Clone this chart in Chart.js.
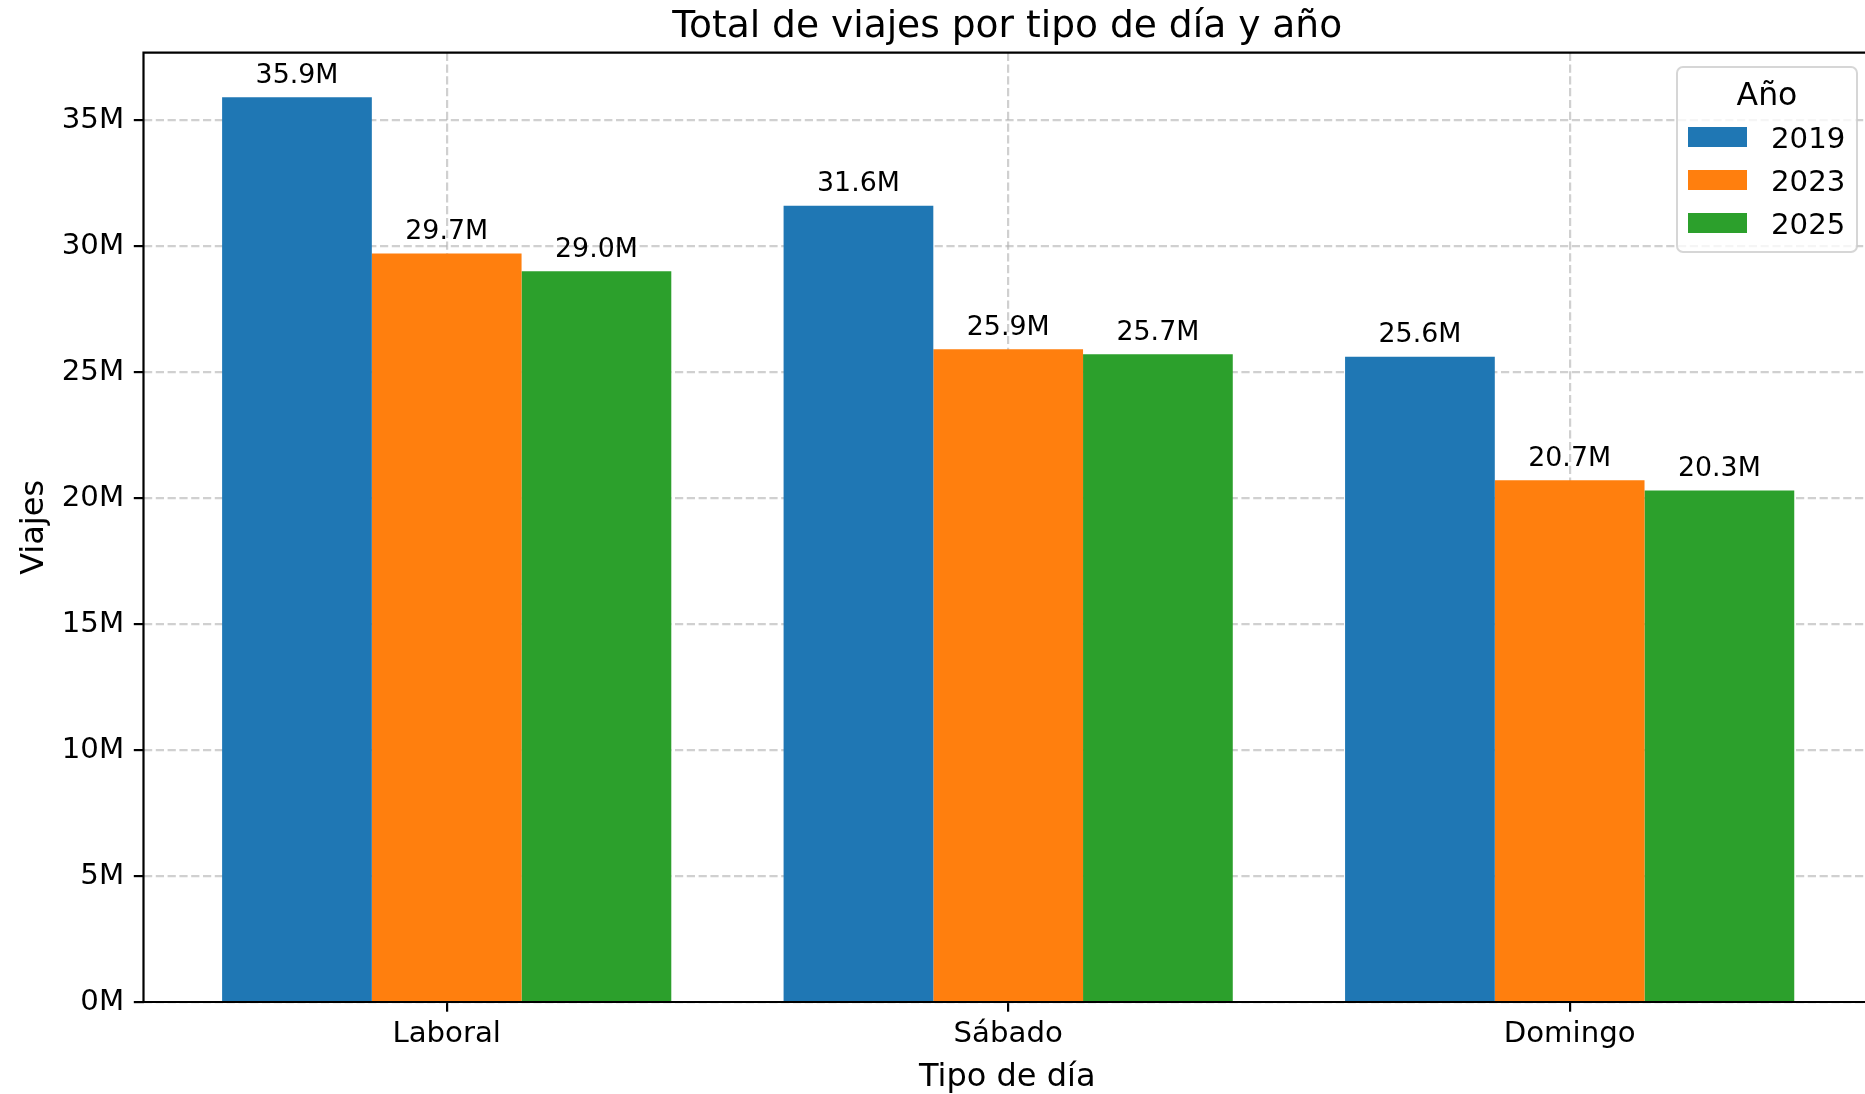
<!DOCTYPE html>
<html>
<head>
<meta charset="utf-8">
<title>Total de viajes por tipo de día y año</title>
<script src="https://cdn.jsdelivr.net/npm/chart.js"></script>
<style>
  body { margin: 0; background: #fff; overflow: hidden; }
</style>
</head>
<body>
<canvas id="grafico" width="1865" height="1094"></canvas>
<script>
// datos (millones de viajes)
var tipos_dia = ['Laboral', 'Sábado', 'Domingo'];
var anios = ['2019', '2023', '2025'];
var viajes_2019 = [35.9, 31.6, 25.6];
var viajes_2023 = [29.7, 25.9, 20.7];
var viajes_2025 = [29.0, 25.7, 20.3];
var ticks_y = [0, 5, 10, 15, 20, 25, 30, 35];
var colores = ['#1f77b4', '#ff7f0e', '#2ca02c'];

var fuente = 'DejaVu Sans';
var color_grid = 'rgba(176,176,176,0.6)';

// paso los valores a puntos {x, y} para el eje lineal
function puntos(valores) {
  return valores.map(function (v, i) { return { x: i, y: v }; });
}

function etiqueta(v) {
  return v.toFixed(1) + 'M';
}

// titulo, spines, etiquetas de las barras y leyenda
var extras = {
  id: 'extras',
  afterDraw: function (chart) {
    var ctx = chart.ctx;
    var area = chart.chartArea;
    ctx.save();

    // spines
    ctx.strokeStyle = '#000';
    ctx.lineWidth = 2.2;
    ctx.beginPath();
    ctx.moveTo(area.right + 5, area.top);
    ctx.lineTo(area.left, area.top);
    ctx.lineTo(area.left, area.bottom);
    ctx.lineTo(area.right + 5, area.bottom);
    ctx.stroke();

    ctx.fillStyle = '#000';
    var centro_x = (area.left + 1871) / 2;

    // titulo
    ctx.font = '37.6px "' + fuente + '"';
    ctx.textAlign = 'center';
    ctx.textBaseline = 'alphabetic';
    ctx.fillText('Total de viajes por tipo de día y año', centro_x, 36.5);

    // titulos de los ejes
    ctx.font = '32px "' + fuente + '"';
    ctx.fillText('Tipo de día', centro_x, 1085.5);
    ctx.save();
    ctx.translate(42.7, (area.top + area.bottom) / 2);
    ctx.rotate(-Math.PI / 2);
    ctx.fillText('Viajes', 0, 0);
    ctx.restore();

    // etiquetas encima de cada barra
    ctx.font = '26.8px "' + fuente + '"';
    chart.data.datasets.forEach(function (ds, d) {
      var meta = chart.getDatasetMeta(d);
      meta.data.forEach(function (barra, i) {
        ctx.fillText(etiqueta(ds.data[i].y), barra.x, barra.y - 14.5);
      });
    });

    // leyenda
    var lx = 1677, ly = 67, lw = 180, lh = 185, r = 6;
    ctx.beginPath();
    ctx.moveTo(lx + r, ly);
    ctx.arcTo(lx + lw, ly, lx + lw, ly + lh, r);
    ctx.arcTo(lx + lw, ly + lh, lx, ly + lh, r);
    ctx.arcTo(lx, ly + lh, lx, ly, r);
    ctx.arcTo(lx, ly, lx + lw, ly, r);
    ctx.closePath();
    ctx.fillStyle = 'rgba(255,255,255,0.8)';
    ctx.fill();
    ctx.strokeStyle = 'rgba(204,204,204,0.8)';
    ctx.lineWidth = 2;
    ctx.stroke();

    ctx.fillStyle = '#000';
    ctx.font = '31.5px "' + fuente + '"';
    ctx.textAlign = 'center';
    ctx.fillText('Año', lx + lw / 2, 105);

    ctx.font = '29.2px "' + fuente + '"';
    ctx.textAlign = 'left';
    chart.data.datasets.forEach(function (ds, d) {
      var y = 127 + d * 43;
      ctx.fillStyle = ds.backgroundColor;
      ctx.fillRect(1688, y, 59, 20);
      ctx.fillStyle = '#000';
      ctx.fillText(ds.label, 1771, y + 20.5);
    });

    ctx.restore();
  }
};

function griglia() {
  return {
    color: color_grid,
    lineWidth: 2.2,
    offset: false,
    tickColor: '#000',
    tickWidth: 2.2,
    tickLength: 9.7,
    tickBorderDash: []
  };
}

// en chart.js v4 el guion de la griglia va en border.dash
function bordo() {
  return { display: false, dash: [8.2, 3.6] };
}

var ctx = document.getElementById('grafico').getContext('2d');

var grafico = new Chart(ctx, {
  type: 'bar',
  data: {
    datasets: [
      { label: anios[0], data: puntos(viajes_2019), backgroundColor: colores[0] },
      { label: anios[1], data: puntos(viajes_2023), backgroundColor: colores[1] },
      { label: anios[2], data: puntos(viajes_2025), backgroundColor: colores[2] }
    ]
  },
  options: {
    responsive: false,
    devicePixelRatio: 1,
    animation: false,
    categoryPercentage: 0.8,
    barPercentage: 1.0,
    borderWidth: 0,
    layout: { padding: { top: 52.7, left: 0, right: 0, bottom: 0 } },
    plugins: {
      legend: { display: false },
      title: { display: false },
      tooltip: { enabled: false }
    },
    scales: {
      x: {
        type: 'linear',
        min: -0.54,
        max: 2.526,
        offset: false,
        z: 1,
        afterBuildTicks: function (axis) {
          axis.ticks = tipos_dia.map(function (t, i) { return { value: i }; });
        },
        afterFit: function (axis) { axis.height = 1094 - 1002; },
        ticks: {
          callback: function (v) { return tipos_dia[v]; },
          font: { family: fuente, size: 29.2 },
          color: '#000',
          padding: 5,
          maxRotation: 0,
          autoSkip: false
        },
        grid: griglia(),
        border: bordo()
      },
      y: {
        type: 'linear',
        min: 0,
        max: 37.67,
        z: 1,
        afterBuildTicks: function (axis) {
          axis.ticks = ticks_y.map(function (v) { return { value: v }; });
        },
        afterFit: function (axis) { axis.width = 143.5; },
        ticks: {
          callback: function (v) { return v + 'M'; },
          font: { family: fuente, size: 29.2 },
          color: '#000',
          padding: 9.7
        },
        grid: griglia(),
        border: bordo()
      }
    }
  },
  plugins: [extras]
});
</script>
</body>
</html>
